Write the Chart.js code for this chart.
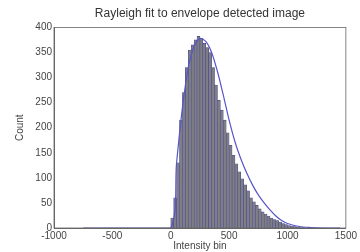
<!DOCTYPE html>
<html>
<head>
<meta charset="utf-8">
<script src="https://cdn.jsdelivr.net/npm/chart.js@4/dist/chart.umd.min.js"></script>
<style>
  html, body { margin: 0; padding: 0; background: #fff; }
  #wrap { width: 360px; height: 252px; }
</style>
</head>
<body>
<div id="wrap"><canvas id="myChart" width="360" height="252"></canvas></div>
<script>
// histogram bins (centre of bin) and counts
const binCentres = [12.5, 37.5, 62.5, 87.5, 112.5, 137.5, 162.5, 187.5, 212.5, 237.5,
    262.5, 287.5, 312.5, 337.5, 362.5, 387.5, 412.5, 437.5, 462.5, 487.5,
    512.5, 537.5, 562.5, 587.5, 612.5, 637.5, 662.5, 687.5, 712.5, 737.5,
    762.5, 787.5, 812.5, 837.5, 862.5, 887.5, 912.5, 937.5, 962.5, 987.5,
    1012.5, 1037.5, 1062.5, 1087.5, 1112.5, 1137.5];
const binCounts = [20, 60, 130, 215, 270, 320, 355, 365, 375, 382,
    378, 368, 360, 350, 320, 285, 255, 235, 215, 190,
    165, 145, 128, 112, 98, 86, 74, 60, 52, 45,
    38, 32, 28, 24, 20, 17, 15, 12, 9, 7,
    5, 4, 3, 2, 1, 1];

// rayleigh fit curve
const fitX = [-750, -500, -250, 0, 50, 100, 150, 200, 250, 300, 350, 400, 450, 500,
    550, 600, 650, 700, 750, 800, 850, 900, 950, 1000, 1100, 1200, 1300, 1450];
const fitY = [0, 0, 0, 0, 130, 240, 320, 362, 378, 372, 350, 312, 265, 215,
    172, 138, 110, 86, 66, 50, 36, 24, 15, 9, 3, 1, 0, 0];

const xTicks = [-1000, -500, 0, 500, 1000, 1500];
const yTicks = [0, 50, 100, 150, 200, 250, 300, 350, 400];

const familia = 'Liberation Sans, Arial, sans-serif';
const fonte = { family: familia, size: 10, lineHeight: 1.1 };

// moldura em volta da area do grafico
const caixa = {
    id: 'caixa',
    afterDraw(chart) {
        const a = chart.chartArea;
        const ctx = chart.ctx;
        ctx.save();
        ctx.strokeStyle = '#666';
        ctx.lineWidth = 0.8;
        ctx.strokeRect(a.left, a.top, a.right - a.left, a.bottom - a.top);
        ctx.restore();
    }
};

const data = {
    datasets: [
        {
            type: 'line',
            label: 'fit',
            data: fitX.map((x, i) => ({ x: x, y: fitY[i] })),
            borderColor: '#5656c8',
            borderWidth: 1.2,
            pointRadius: 0,
            tension: 0.3,
            order: 0
        },
        {
            type: 'bar',
            label: 'hist',
            data: binCentres.map((x, i) => ({ x: x, y: binCounts[i] })),
            backgroundColor: '#7e7e84',
            borderColor: '#4a4a90',
            borderWidth: 0.6,
            barPercentage: 1,
            categoryPercentage: 1,
            order: 1
        }
    ]
};

const options = {
    responsive: false,
    animation: false,
    layout: { padding: { left: 0, right: 13, top: 0, bottom: 0 } },
    plugins: {
        legend: { display: false },
        tooltip: { enabled: false },
        title: {
            display: true,
            fullSize: false,
            text: 'Rayleigh fit to envelope detected image',
            color: '#333',
            font: { family: familia, size: 12, weight: 'normal' },
            padding: { top: 6, bottom: 7 }
        }
    },
    scales: {
        x: {
            type: 'linear',
            offset: false,
            min: -1000,
            max: 1500,
            afterBuildTicks: (s) => { s.ticks = xTicks.map(v => ({ value: v })); },
            afterFit: (s) => { s.height = 24; },
            ticks: { color: '#444', font: fonte, padding: 3, maxRotation: 0, callback: (v) => String(v) },
            grid: { display: false, drawTicks: false },
            border: { color: '#666' },
            title: { display: true, text: 'Intensity bin', color: '#444', font: fonte, padding: 0 }
        },
        y: {
            min: 0,
            max: 400,
            afterBuildTicks: (s) => { s.ticks = yTicks.map(v => ({ value: v })); },
            afterFit: (s) => { s.width = 54; },
            ticks: { color: '#444', font: fonte, padding: 2, callback: (v) => String(v) },
            grid: { display: false, drawTicks: false },
            border: { color: '#666' },
            title: { display: true, text: 'Count', color: '#444', font: { family: familia, size: 10 }, padding: { top: 14, bottom: 0 } }
        }
    }
};

const config = {
    type: 'bar',
    data: data,
    options: options,
    plugins: [caixa]
};

const myChart = new Chart(document.getElementById('myChart'), config);
</script>
</body>
</html>
